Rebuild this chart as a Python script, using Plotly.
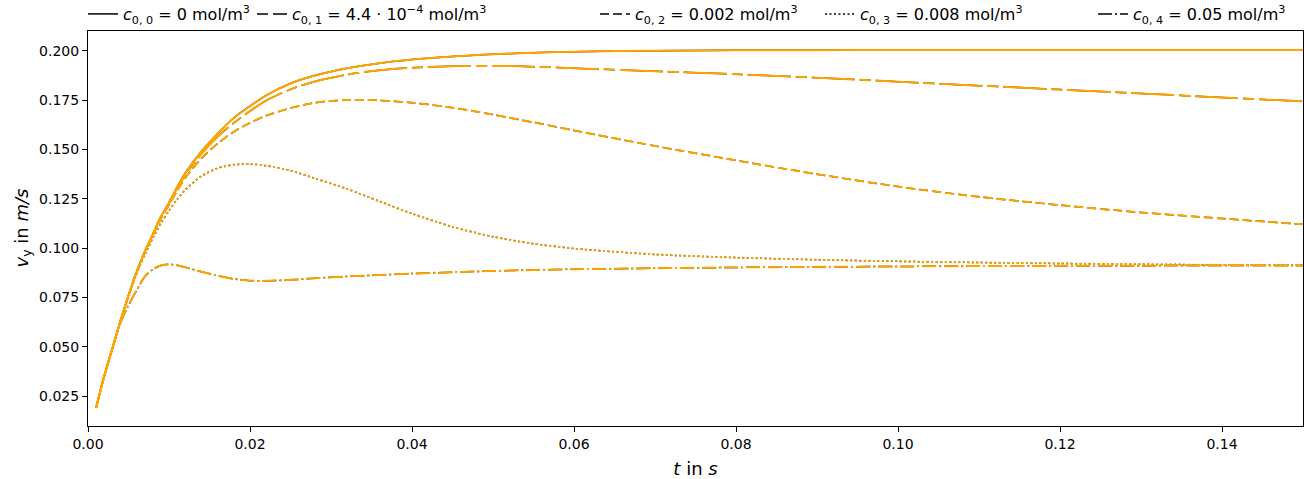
import plotly.graph_objects as go

# time axis (s)
t = [0.001, 0.002, 0.003, 0.004, 0.005, 0.006, 0.007, 0.008, 0.009, 0.010,
     0.011, 0.012, 0.014, 0.016, 0.018, 0.020, 0.022, 0.025, 0.028, 0.032,
     0.036, 0.040, 0.045, 0.050, 0.055, 0.060, 0.070, 0.080, 0.090, 0.100,
     0.110, 0.120, 0.130, 0.140, 0.150]

v_c00 = [0.019, 0.035, 0.049, 0.063, 0.076, 0.088, 0.098, 0.107, 0.116, 0.123,
         0.131, 0.138, 0.149, 0.158, 0.166, 0.172, 0.1775, 0.1835, 0.1875, 0.1912,
         0.1938, 0.1956, 0.1972, 0.1983, 0.1991, 0.1996, 0.2001, 0.2003, 0.2004, 0.2005,
         0.2005, 0.2005, 0.2005, 0.2005, 0.2005]

v_c01 = [0.019, 0.035, 0.049, 0.063, 0.076, 0.088, 0.098, 0.107, 0.116, 0.1228,
         0.1303, 0.137, 0.1478, 0.1565, 0.1635, 0.1695, 0.1748, 0.1805, 0.1845, 0.1880,
         0.1902, 0.1915, 0.1922, 0.1924, 0.1920, 0.1912, 0.1897, 0.1882, 0.1864, 0.1844,
         0.1824, 0.1804, 0.1784, 0.1764, 0.1744]

v_c02 = [0.019, 0.035, 0.049, 0.063, 0.076, 0.088, 0.098, 0.1065, 0.1150, 0.1220,
         0.1290, 0.1355, 0.1455, 0.1530, 0.1590, 0.1635, 0.1672, 0.1710, 0.1737, 0.1751,
         0.1749, 0.1737, 0.1712, 0.1677, 0.1638, 0.1597, 0.1518, 0.1445, 0.1375, 0.1312,
         0.1260, 0.1218, 0.1181, 0.1150, 0.1121]

v_c03 = [0.019, 0.035, 0.049, 0.063, 0.0755, 0.087, 0.0965, 0.1050, 0.1125, 0.1190,
         0.1247, 0.1295, 0.1365, 0.1405, 0.1423, 0.1426, 0.1418, 0.1393, 0.1354, 0.1300,
         0.1237, 0.1175, 0.1108, 0.1058, 0.1022, 0.0998, 0.0968, 0.0952, 0.0941, 0.0933,
         0.0927, 0.0922, 0.0918, 0.0915, 0.0913]

v_c04 = [0.019, 0.035, 0.049, 0.062, 0.071, 0.0785, 0.0855, 0.0892, 0.0912, 0.0918,
         0.0913, 0.0903, 0.0880, 0.0860, 0.0844, 0.0835, 0.0834, 0.0839, 0.0847, 0.0856,
         0.0864, 0.0871, 0.0878, 0.0884, 0.0889, 0.0893, 0.0898, 0.0902, 0.0905, 0.0907,
         0.0909, 0.0910, 0.0911, 0.0912, 0.0912]

labels = [
    "<i>c</i><sub>0, 0</sub> = 0 mol/m<sup>3</sup>",
    "<i>c</i><sub>0, 1</sub> = 4.4 · 10<sup>−4</sup> mol/m<sup>3</sup>",
    "<i>c</i><sub>0, 2</sub> = 0.002 mol/m<sup>3</sup>",
    "<i>c</i><sub>0, 3</sub> = 0.008 mol/m<sup>3</sup>",
    "<i>c</i><sub>0, 4</sub> = 0.05 mol/m<sup>3</sup>",
]
series = [v_c00, v_c01, v_c02, v_c03, v_c04]
dashes = ["solid", "11px,5px,43px,5px", "9px,4px", "2px,2.5px", "14px,3px,2px,3px"]
legend_ids = ["legend", "legend2", "legend3", "legend4", "legend5"]
legend_text_x = [123, 292, 635, 860, 1133]   # left edge of each legend label (px)

xticks = [0.00, 0.02, 0.04, 0.06, 0.08, 0.10, 0.12, 0.14]
yticks = [0.025, 0.050, 0.075, 0.100, 0.125, 0.150, 0.175, 0.200]

W, H = 1304, 479
ML, MR, MT, MB = 88, 1, 31, 53

fig = go.Figure()
for lab, vals, d, lg in zip(labels, series, dashes, legend_ids):
    fig.add_trace(go.Scatter(x=t, y=vals, mode="lines", name=lab, legend=lg,
                             line=dict(color="black", width=1.5, dash=d,
                                       shape="spline", smoothing=0.8)))
for lab, vals, d in zip(labels, series, dashes):
    fig.add_trace(go.Scatter(x=t, y=vals, mode="lines", name=lab, showlegend=False,
                             line=dict(color="#FFA500", width=2.0, dash=d,
                                       shape="spline", smoothing=0.8)))

axis_common = dict(showline=True, mirror=True, linecolor="black", linewidth=1,
                   ticks="outside", ticklen=5, tickwidth=1, tickcolor="black",
                   showgrid=False, zeroline=False,
                   tickfont=dict(family="DejaVu Sans", size=14, color="black"))

legend_layout = {}
for lg, tx in zip(legend_ids, legend_text_x):
    legend_layout[lg] = dict(
        xref="container", yref="container",
        x=(tx - 40) / W, xanchor="left",
        y=1 - 14 / H, yanchor="middle",
        font=dict(family="DejaVu Sans", size=16, color="black"),
        bgcolor="rgba(0,0,0,0)", borderwidth=0)

plot_w = W - ML - MR
fig.add_annotation(
    text="<i>v</i><sub>y</sub> in <i>m/s</i>", textangle=-90,
    xref="paper", yref="paper", x=-(ML - 22) / plot_w, y=0.5,
    xanchor="center", yanchor="middle", showarrow=False,
    font=dict(family="DejaVu Sans", size=18, color="black"))

fig.update_layout(
    width=W, height=H,
    margin=dict(l=ML, r=MR, t=MT, b=MB, autoexpand=False),
    paper_bgcolor="white", plot_bgcolor="white",
    font=dict(family="DejaVu Sans", color="black"),
    xaxis=dict(range=[0, 0.15], tickvals=xticks, tickformat=".2f",
               title=dict(text="<i>t</i> in <i>s</i>", font=dict(size=18)),
               **axis_common),
    yaxis=dict(range=[0.0098, 0.2101], tickvals=yticks, tickformat=".3f",
               **axis_common),
    **legend_layout,
)

fig.write_html("out.html")
